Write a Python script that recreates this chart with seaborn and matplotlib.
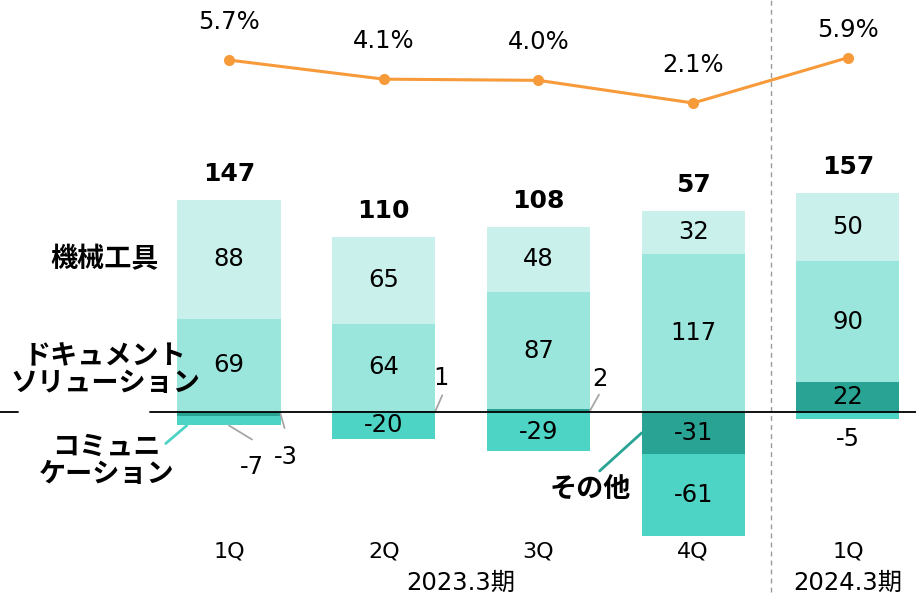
import numpy as np
import pandas as pd
import matplotlib
matplotlib.use("Agg")
import matplotlib.pyplot as plt
import seaborn as sns

# data (億円 / %)
quarters = ["1Q", "2Q", "3Q", "4Q", "1Q"]
periods = ["2023.3期", "2024.3期"]
kikai = [88, 65, 48, 32, 50]            # 機械工具
document = [69, 64, 87, 117, 90]        # ドキュメントソリューション
sonota = [-3, 1, 2, -31, 22]            # その他
comm = [-7, -20, -29, -61, -5]          # コミュニケーション
totals = [147, 110, 108, 57, 157]
margin = [5.7, 4.1, 4.0, 2.1, 5.9]      # 利益率

c_kikai = "#c9f0eb"
c_doc = "#9be6dc"
c_sonota = "#29a393"
c_comm = "#4dd4c5"
orange = "#f79a3a"
gray = "#a6a6a6"

sns.set_theme(style="white")
plt.rcParams["font.family"] = ["DejaVu Sans", "Noto Sans CJK JP"]
plt.rcParams["text.color"] = "black"
plt.rcParams["xtick.color"] = "black"
plt.rcParams["xtick.labelcolor"] = "black"
jp = ["Noto Sans CJK JP", "DejaVu Sans"]
fs = 17.5

fig = plt.figure(figsize=(9.16, 5.97), dpi=100)
ax = fig.add_axes([0, 60 / 597, 1, 537 / 597])
x = np.arange(len(quarters))
w = 0.666

# stacking: positives up from zero, negatives down from zero
segs = [("その他", sonota, c_sonota),
        ("ドキュメント", document, c_doc),
        ("機械工具", kikai, c_kikai),
        ("コミュニケーション", comm, c_comm)]
pos = np.zeros(len(x))
neg = np.zeros(len(x))
geo = {}
for name, vals, col in segs:
    v = np.array(vals, dtype=float)
    base = np.where(v >= 0, pos, neg)
    ax.bar(x, v, bottom=base, width=w, color=col, linewidth=0, zorder=2)
    geo[name] = (v, base)
    pos += np.where(v >= 0, v, 0)
    neg += np.where(v < 0, v, 0)

# value labels inside the segments
for name, (v, base) in geo.items():
    for i in range(len(x)):
        if abs(v[i]) >= 10:
            ax.text(x[i], base[i] + v[i] / 2, f"{v[i]:.0f}", ha="center", va="center",
                    fontsize=fs, color="black", zorder=4)

# small values outside with leader lines (offsets in pixels, y downwards)
def outside(name, i, where, line, txt):
    v, base = geo[name]
    if where == "right":
        xy = (x[i] + w / 2, base[i] + v[i] / 2)
    else:
        xy = (x[i], base[i] + v[i])
    if line is not None:
        ax.annotate("", xy=xy, xytext=(line[0], -line[1]), textcoords="offset pixels",
                    arrowprops=dict(arrowstyle="-", color=gray, lw=1.3, shrinkA=0, shrinkB=0))
    ax.annotate(f"{v[i]:.0f}", xy=xy, xytext=(txt[0], -txt[1]), textcoords="offset pixels",
                ha="center", va="center", fontsize=fs)

outside("その他", 0, "right", (4, 14), (5, 43))
outside("コミュニケーション", 0, "bottom", (23, 14), (23, 42))
outside("その他", 1, "right", (7, -16), (6, -33))
outside("その他", 2, "right", (9, -16), (10, -32))
outside("コミュニケーション", 4, "bottom", None, (0, 20))

# totals
for i in range(len(x)):
    ax.annotate(f"{totals[i]}", xy=(x[i], pos[i]), xytext=(0, 26), textcoords="offset pixels",
                ha="center", va="center", fontsize=18, fontweight="bold")

# segment names on the left
v, base = geo["機械工具"]
ax.annotate("機械工具", xy=(x[0], base[0] + v[0] / 2), xytext=(-124, 0), textcoords="offset pixels",
            ha="center", va="center", fontsize=19.5, fontweight="bold", family=jp)
v, base = geo["ドキュメント"]
ax.annotate("ドキュメント\nソリューション", xy=(x[0], base[0] + v[0] / 2), xytext=(-124, -4),
            textcoords="offset pixels", ha="center", va="center", fontsize=19.5,
            fontweight="bold", family=jp, linespacing=1.0)
v, base = geo["コミュニケーション"]
p = (x[0] - w / 2, base[0] + v[0])
ax.annotate("", xy=(x[0] - w / 2 + 0.06, base[0] + v[0]), xytext=(-12 - 9, -15 - 3),
            textcoords="offset pixels",
            arrowprops=dict(arrowstyle="-", color=c_comm, lw=2, shrinkA=0, shrinkB=0))
ax.annotate("コミュニ\nケーション", xy=p, xytext=(-71, -35), textcoords="offset pixels",
            ha="center", va="center", fontsize=19.5, fontweight="bold", family=jp, linespacing=1.0)
v, base = geo["その他"]
p = (x[3] - w / 2, base[3] + v[3] / 2)
ax.annotate("", xy=p, xytext=(-42, -38), textcoords="offset pixels",
            arrowprops=dict(arrowstyle="-", color=c_sonota, lw=2, shrinkA=0, shrinkB=0))
ax.annotate("その他", xy=p, xytext=(-51, -57), textcoords="offset pixels",
            ha="center", va="center", fontsize=19.5, fontweight="bold", family=jp)

# zero line and period separator
ax.axhline(0, xmin=150 / 916, xmax=1, color="black", lw=1.3, zorder=3)
ax.axhline(0, xmin=0, xmax=18 / 916, color="black", lw=1.3, zorder=3)
ax.axvline(3.5, ymin=-55 / 537, ymax=1, clip_on=False, color="#9a9a9a",
           ls=(0, (3.5, 3)), lw=1, zorder=1)

ax.set_xticks(x, quarters)
ax.tick_params(axis="x", length=0, pad=3, labelsize=16, labelcolor="black")
ax.set_yticks([])
for s in ax.spines.values():
    s.set_visible(False)
ax.set_ylim(-92.6, 305.2)

ax.annotate(periods[0], xy=(1.5, 0), xycoords=("data", "axes fraction"), xytext=(0, -46),
            textcoords="offset pixels", ha="center", va="center", fontsize=fs)
ax.annotate(periods[1], xy=(4, 0), xycoords=("data", "axes fraction"), xytext=(0, -46),
            textcoords="offset pixels", ha="center", va="center", fontsize=fs)

# margin line on its own scale
ax2 = ax.twinx()
df = pd.DataFrame({"x": x, "margin": margin})
sns.lineplot(data=df, x="x", y="margin", ax=ax2, color=orange, lw=2.2, marker="o",
             markersize=8, markeredgewidth=0, zorder=5)
lift = [38, 38, 38, 38, 28]
for i in range(len(x)):
    ax2.annotate(f"{margin[i]:.1f}%", xy=(x[i], margin[i]), xytext=(0, lift[i]),
                 textcoords="offset pixels", ha="center", va="center", fontsize=fs)
ax2.set_ylim(-34.25, 10.73)
ax2.axis("off")

ax.set_xlim(-1.48, 4.44)
fig.savefig("out.png", dpi=100, facecolor="white")
